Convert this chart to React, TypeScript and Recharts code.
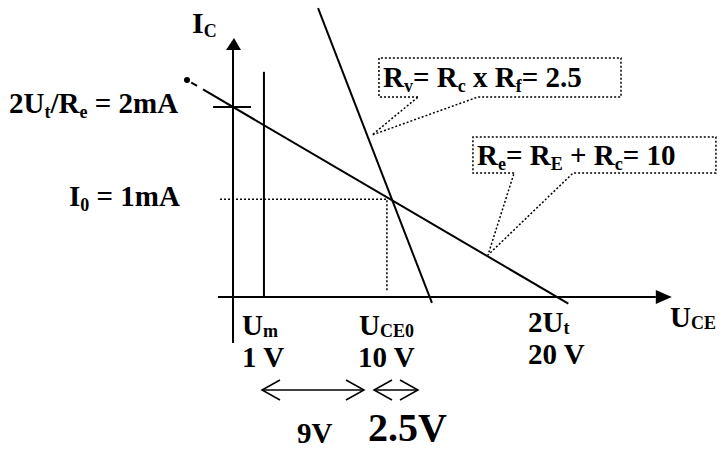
import { LineChart, Line, XAxis, YAxis, ReferenceDot } from 'recharts'

// volts on x, mA on y
const loadLineRe = [{ x: -1.85, y: 2.185 }, { x: 20.7, y: -0.07 }]
const loadLineReDash = [{ x: -2.84, y: 2.284 }, { x: -2.22, y: 2.222 }]
const loadLineRv = [{ x: 5.25, y: 3.04 }, { x: 12.28, y: -0.063 }]
const umLine = [{ x: 1.91, y: 0 }, { x: 1.91, y: 2.37 }]
const yAxisLine = [{ x: 0, y: -0.484 }, { x: 0, y: 2.6 }]
const xAxisLine = [{ x: -0.93, y: 0 }, { x: 26.1, y: 0 }]
const tick2mA = [{ x: -1.23, y: 2 }, { x: 1.11, y: 2 }]
const quiescent = [{ x: -0.8, y: 1.03 }, { x: 9.5, y: 1.03 }, { x: 9.5, y: 0.05 }]

const calloutRv = [
  { x: 11.42, y: 2.105 }, { x: 9.01, y: 2.105 }, { x: 9.01, y: 2.516 }, { x: 23.95, y: 2.516 },
  { x: 23.95, y: 2.105 }, { x: 15.12, y: 2.105 }, { x: 8.58, y: 1.705 }, { x: 11.42, y: 2.105 },
]
const calloutRe = [
  { x: 17.35, y: 1.305 }, { x: 14.81, y: 1.305 }, { x: 14.81, y: 1.684 }, { x: 29.81, y: 1.684 },
  { x: 29.81, y: 1.305 }, { x: 20.99, y: 1.305 }, { x: 15.74, y: 0.442 }, { x: 17.35, y: 1.305 },
]

const xDomain = [-14.383, 30.123]
const yDomain = [-1.6211, 3.1263]

const font = '"Liberation Serif", "Times New Roman", serif'
const SUB = 18

const solid = { stroke: '#000', strokeWidth: 2, dot: false, isAnimationActive: false, type: 'linear' as const }
const dotted = { ...solid, strokeDasharray: '2 2' }

function Chevrons({ x1, x2, y }: { x1: number; x2: number; y: number }) {
  return (
    <g stroke="#000" strokeWidth={1.5} fill="none">
      <line x1={x1} y1={y} x2={x2} y2={y} />
      <polyline points={`${x1 + 18},${y - 10} ${x1},${y} ${x1 + 18},${y + 10}`} />
      <polyline points={`${x2 - 18},${y - 10} ${x2},${y} ${x2 - 18},${y + 10}`} />
    </g>
  )
}

export default function App() {
  return (
    <div style={{ position: 'absolute', left: 0, top: 0, width: 721, height: 451, background: '#fff' }}>
      <LineChart width={721} height={451} margin={{ top: 0, right: 0, bottom: 0, left: 0 }}>
        <XAxis hide type="number" dataKey="x" domain={xDomain} allowDataOverflow />
        <YAxis hide type="number" dataKey="y" domain={yDomain} allowDataOverflow />
        <Line data={yAxisLine} dataKey="y" {...solid} />
        <Line data={xAxisLine} dataKey="y" {...solid} />
        <Line data={tick2mA} dataKey="y" {...solid} />
        <Line data={umLine} dataKey="y" {...solid} />
        <Line data={loadLineRe} dataKey="y" {...solid} />
        <Line data={loadLineReDash} dataKey="y" {...solid} />
        <Line data={loadLineRv} dataKey="y" {...solid} />
        <Line data={quiescent} dataKey="y" {...dotted} strokeWidth={1.5} />
        <Line data={calloutRv} dataKey="y" {...dotted} strokeWidth={1.5} />
        <Line data={calloutRe} dataKey="y" {...dotted} strokeWidth={1.5} />
        <ReferenceDot
          x={0}
          y={2.6}
          shape={(p: any) => <polygon points={`${p.cx - 7},${p.cy} ${p.cx + 1},${p.cy - 12} ${p.cx + 8},${p.cy}`} fill="#000" />}
        />
        <ReferenceDot
          x={26.1}
          y={0}
          shape={(p: any) => <polygon points={`${p.cx},${p.cy - 7} ${p.cx + 16},${p.cy} ${p.cx},${p.cy + 7}`} fill="#000" />}
        />
      </LineChart>
      <svg width={721} height={451} style={{ position: 'absolute', left: 0, top: 0, pointerEvents: 'none' }}>
        <g fontFamily={font} fontWeight="bold" fontSize={29} fill="#000">
          <text x={192} y={33} fontSize={30}>
            I<tspan fontSize={SUB} dy={4}>C</tspan>
          </text>
          <text x={9} y={113}>
            2U<tspan fontSize={SUB} dy={5}>t</tspan>
            <tspan dy={-5}>/R</tspan>
            <tspan fontSize={SUB} dy={5}>e</tspan>
            <tspan dy={-5}> = 2mA</tspan>
          </text>
          <text x={69} y={206}>
            I<tspan fontSize={SUB} dy={5}>0</tspan>
            <tspan dy={-5}> = 1mA</tspan>
          </text>
          <text x={383} y={87}>
            R<tspan fontSize={SUB} dy={5}>v</tspan>
            <tspan dy={-5}>= R</tspan>
            <tspan fontSize={SUB} dy={5}>c</tspan>
            <tspan dy={-5}> x R</tspan>
            <tspan fontSize={SUB} dy={5}>f</tspan>
            <tspan dy={-5}>= 2.5</tspan>
          </text>
          <text x={477} y={165}>
            R<tspan fontSize={SUB} dy={5}>e</tspan>
            <tspan dy={-5}>= R</tspan>
            <tspan fontSize={SUB} dy={5}>E</tspan>
            <tspan dy={-5}> + R</tspan>
            <tspan fontSize={SUB} dy={5}>c</tspan>
            <tspan dy={-5}>= 10</tspan>
          </text>
          <text x={242} y={335}>
            U<tspan fontSize={SUB} dy={2}>m</tspan>
          </text>
          <text x={242} y={367}>1 V</text>
          <text x={359} y={335}>
            U<tspan fontSize={SUB} dy={2}>CE0</tspan>
          </text>
          <text x={358} y={367}>10 V</text>
          <text x={528} y={332}>
            2U<tspan fontSize={SUB} dy={2}>t</tspan>
          </text>
          <text x={528} y={364}>20 V</text>
          <text x={670} y={327}>
            U<tspan fontSize={SUB} dy={2}>CE</tspan>
          </text>
          <text x={297} y={443}>9V</text>
          <text x={368} y={441} fontSize={40}>2.5V</text>
        </g>
        <Chevrons x1={262} x2={364} y={390} />
        <Chevrons x1={374} x2={418} y={390} />
      </svg>
    </div>
  )
}
